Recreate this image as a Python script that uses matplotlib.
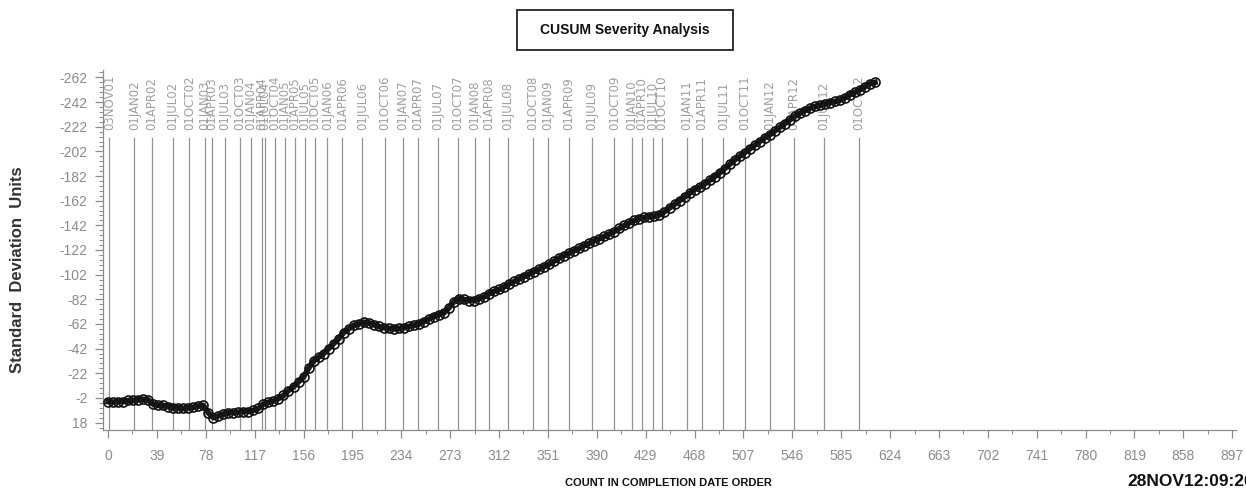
"""
CUSUM severity chart - count in completion date order vs std dev units
"""
import matplotlib
matplotlib.use('Agg')
import matplotlib.pyplot as plt
from matplotlib.patches import Rectangle
import numpy as np

NARROW = ['Liberation Sans Narrow', 'Liberation Sans', 'DejaVu Sans']

# CUSUM values, one reading every 4 counts (count 0 .. 612)
counts = list(range(0, 613, 4))
cusum = [
    1, 1.5, 1, 1, 0, 0, -0.5, -1, -0.5, 3,
    4, 4, 5, 6, 6, 6.5, 6, 5.5, 4.5, 4,
    10, 14, 12.5, 11, 10, 10, 9.5, 9, 9, 8,
    6.5, 3, 1.5, 0.5, -1.5, -4, -8, -11, -15, -19,
    -26, -32, -35, -38, -42, -46, -50, -55, -58, -61,
    -62, -63.5, -63, -61.5, -60, -59, -58.5, -58, -58.5, -59,
    -60, -61, -62, -64, -66, -68, -69.5, -71, -75, -80,
    -82.5, -82, -81, -81, -82.5, -84, -86.5, -88.5, -90, -92,
    -94.5, -96.5, -98.5, -100.5, -102.5, -104.5, -106.5, -108.5, -110.5, -113,
    -115.5, -117.5, -119.5, -121.5, -123.5, -125.5, -127.5, -129.5, -131, -133,
    -135, -137, -139.5, -142, -144, -146, -147.5, -148.5, -149, -149.5,
    -150.5, -153, -156, -159, -162, -165, -168, -171, -173, -175.5,
    -178.5, -181.5, -184.5, -188, -191.5, -195, -198, -201, -204, -207,
    -210, -213, -215.5, -218.5, -221.5, -224.5, -227.5, -230.5, -233, -235,
    -237, -238.5, -239.5, -240.5, -241.5, -242.5, -243.5, -245.5, -248, -250,
    -252, -254.5, -257, -258,
]

# quarter reference lines (count at which each date starts)
ref_counts = [1, 21, 35, 52, 65, 77, 83, 93, 105, 114,
              123, 125, 133, 141, 149, 157, 165, 175, 187, 203,
              221, 235, 247, 263, 279, 293, 304, 319, 339, 351,
              368, 386, 404, 418, 426, 435, 442, 462, 474, 491,
              508, 528, 547, 571, 599]
ref_labels = ['03NOV01', '01JAN02', '01APR02', '01JUL02', '01OCT02', '01JAN03', '01APR03',
              '01JUL03', '01OCT03', '01JAN04', '01APR04', '01JUL04', '01OCT04', '01JAN05',
              '01APR05', '01JUL05', '01OCT05', '01JAN06', '01APR06', '01JUL06', '01OCT06',
              '01JAN07', '01APR07', '01JUL07', '01OCT07', '01JAN08', '01APR08', '01JUL08',
              '01OCT08', '01JAN09', '01APR09', '01JUL09', '01OCT09', '01JAN10', '01APR10',
              '01JUL10', '01OCT10', '01JAN11', '01APR11', '01JUL11', '01OCT11', '01JAN12',
              '01APR12', '01JUL12', '01OCT12']

x_ticks = list(range(0, 898, 39))
y_ticks = [18, -2, -22, -42, -62, -82, -102, -122, -142, -162, -182, -202, -222, -242, -262]
y_tick_labels = ['18', '-2', '-22', '-42', '-62', '-82', '-102', '-122', '-142',
                 '-162', '-182', '-202', '-222', '-242', '-262']

GRAY = '#8c8c8c'

fig = plt.figure(figsize=(12.46, 4.93), dpi=100)
ax = fig.add_axes([103 / 1246, 1 - 430 / 493, 1133 / 1246, 360 / 493])
ax.set_xlim(-4, 900)
ax.set_ylim(24, -268)

# reference lines + rotated date labels
for xc, lab in zip(ref_counts, ref_labels):
    ax.plot([xc, xc], [24, -213], color='#939393', lw=0.9, zorder=1)
    ax.text(xc, -219, lab, rotation=90, ha='center', va='bottom',
            fontsize=8.5, color='#a0a0a0', family='DejaVu Sans', clip_on=False)

# the CUSUM trace: thick line with dense open circles
ax.plot(counts, cusum, color='#1a1a1a', lw=4, zorder=3)
ax.plot(counts, cusum, linestyle='none', marker='o', markersize=6.5,
        markerfacecolor='none', markeredgecolor='#111111', markeredgewidth=1.2,
        zorder=4)

for s in ['top', 'right']:
    ax.spines[s].set_visible(False)
for s in ['left', 'bottom']:
    ax.spines[s].set_color(GRAY)
    ax.spines[s].set_linewidth(0.9)

ax.set_xticks(x_ticks)
ax.set_xticks([t + 19.5 for t in x_ticks[:-1]], minor=True)
ax.set_yticks(y_ticks)
ax.set_yticklabels(y_tick_labels)
ax.set_yticks(list(range(22, -270, -4)), minor=True)
ax.tick_params(axis='both', which='major', direction='out', length=6, width=0.9,
               color=GRAY, labelcolor=GRAY, labelsize=10)
ax.tick_params(axis='both', which='minor', direction='out', length=3, width=0.7,
               color=GRAY)
ax.tick_params(axis='x', pad=8)
ax.tick_params(axis='y', pad=5)
for lab in ax.get_xticklabels() + ax.get_yticklabels():
    lab.set_family(NARROW)

# title box
fig.patches.append(Rectangle((517 / 1246, 1 - 50 / 493), 216 / 1246, 40 / 493,
                             transform=fig.transFigure, facecolor='white',
                             edgecolor='#222222', linewidth=1.3))
fig.text(625 / 1246, 1 - 30 / 493, 'CUSUM Severity Analysis', ha='center', va='center',
         fontsize=10, fontweight='bold', family=NARROW, color='#111111')

fig.text(18 / 1246, 1 - 270 / 493, 'Standard  Deviation  Units', rotation=90,
         ha='center', va='center', fontsize=12, fontweight='bold',
         family=['Liberation Sans', 'DejaVu Sans'], color='#333333')
fig.text(668 / 1246, 1 - 483 / 493, 'COUNT IN COMPLETION DATE ORDER', ha='center',
         va='center', fontsize=8, fontweight='bold', family=NARROW, color='#111111')
fig.text(1127 / 1246, 1 - 482 / 493, '28NOV12:09:26', ha='left', va='center',
         fontsize=12.5, fontweight='bold', family=NARROW, color='#111111')

fig.savefig('out.png', dpi=100, facecolor='white')
